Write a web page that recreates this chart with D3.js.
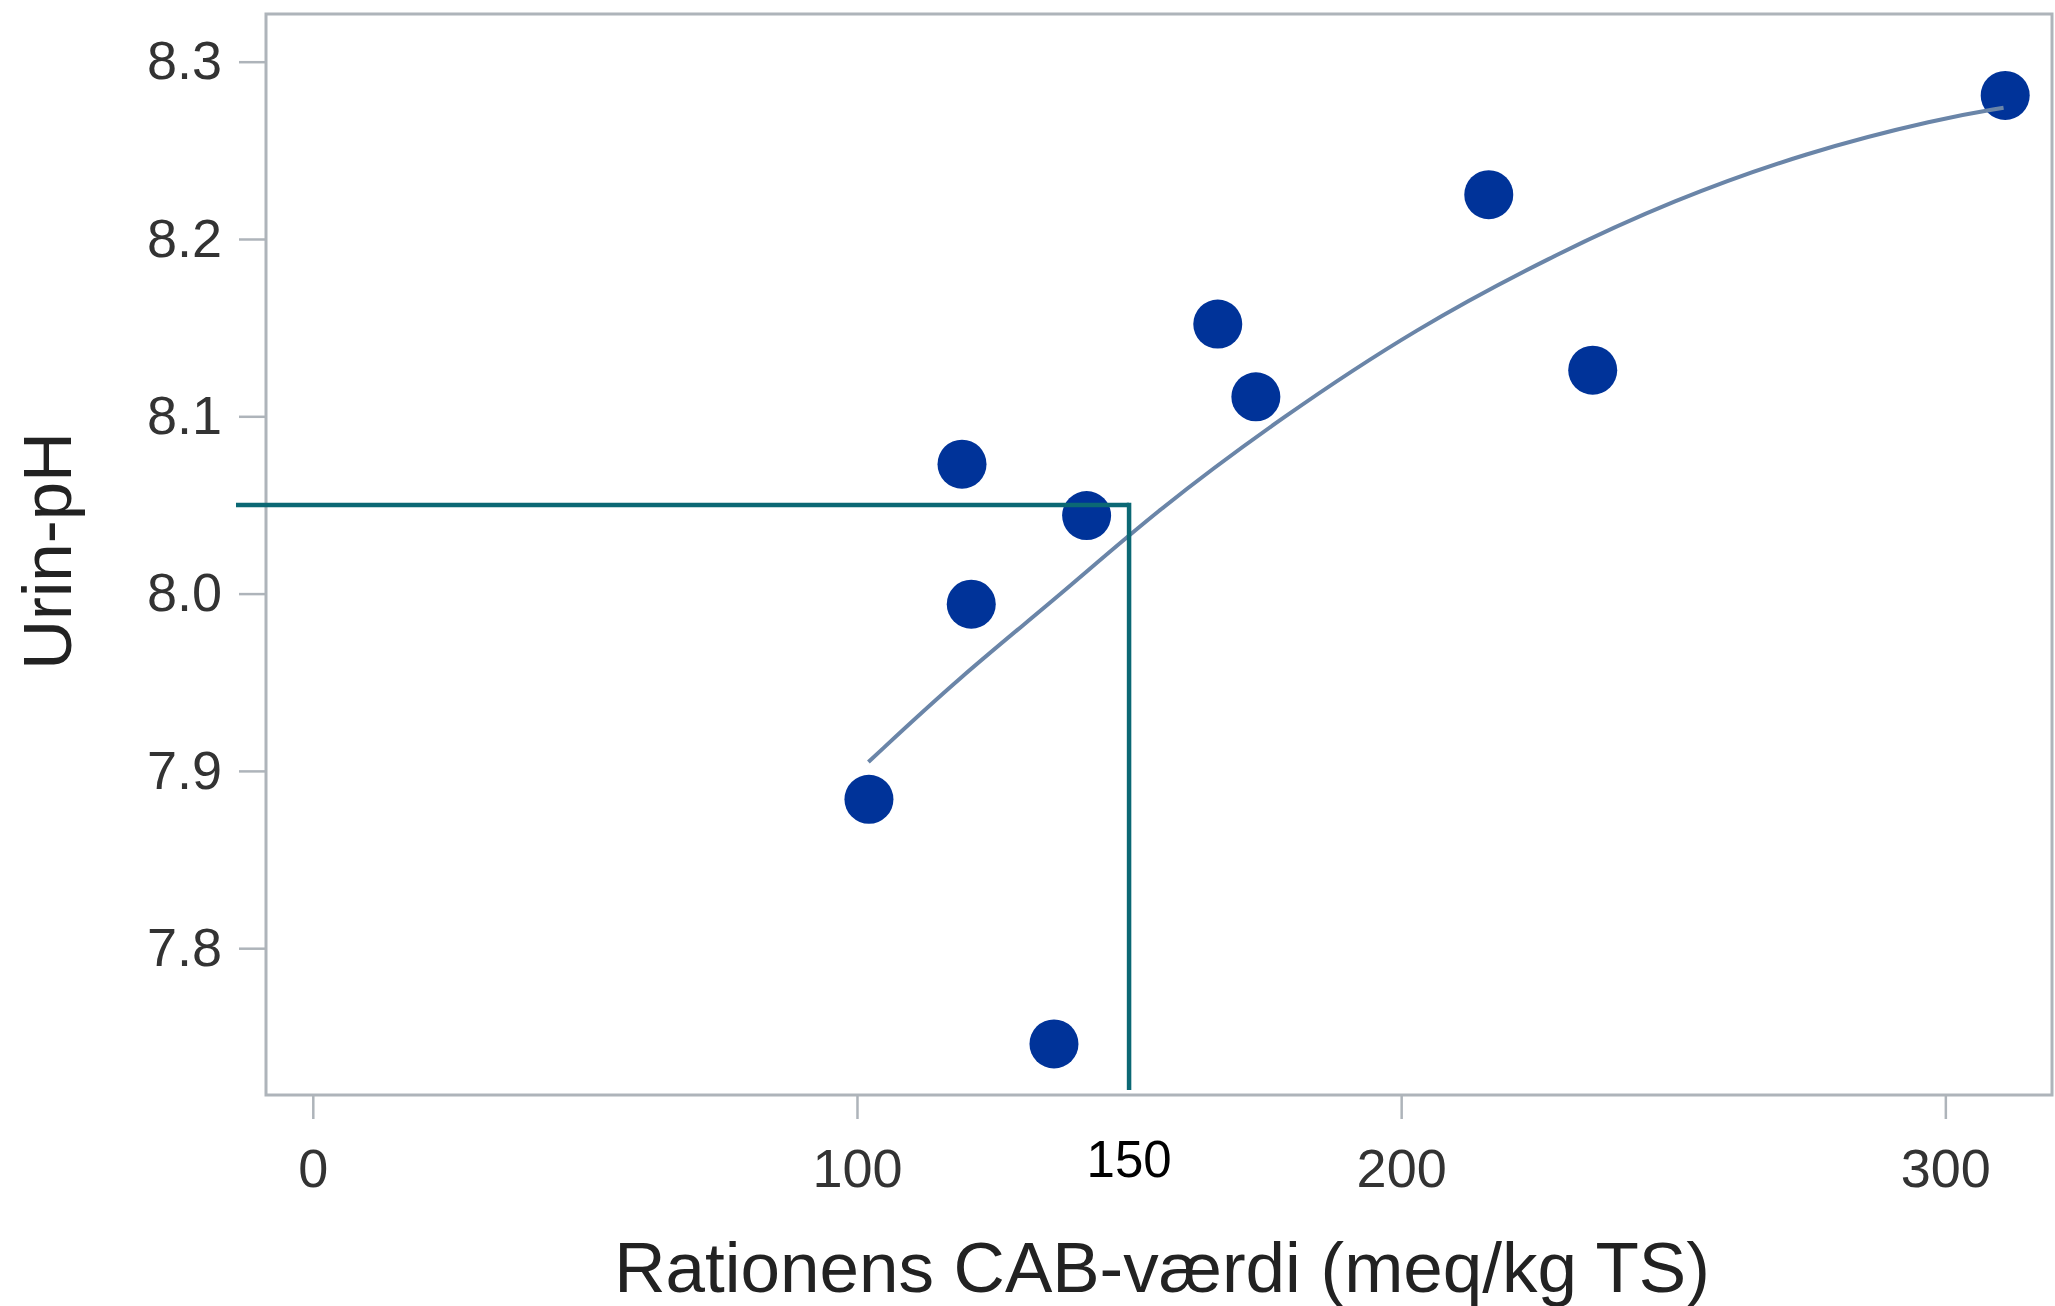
<!DOCTYPE html>
<html>
<head>
<meta charset="utf-8">
<script src="https://cdn.jsdelivr.net/npm/d3@7"></script>
<style>
  html, body { margin: 0; padding: 0; background: #ffffff; }
  svg { display: block; }
</style>
</head>
<body>
<script>
// Ration CAB value (meq/kg DM) and urine pH per observation
const cabValues = [102.2, 119.3, 121.0, 136.2, 142.2, 166.3, 173.3, 216.1, 235.2, 311.0];
const urinePh   = [7.884, 8.073, 7.994, 7.746, 8.044, 8.152, 8.111, 8.225, 8.126, 8.281];

// Fitted trend curve, sampled along the CAB range
const fitCab = [102.1, 118.9, 137.3, 155.1, 178.3, 202.9, 227.4, 250.0, 274.5, 299.0, 310.7];
const fitPh  = [7.905, 7.953, 7.999, 8.047, 8.100, 8.150, 8.190, 8.222, 8.249, 8.268, 8.274];

// Axis ticks
const xTicks = [0, 100, 200, 300];
const yTicks = [7.8, 7.9, 8.0, 8.1, 8.2, 8.3];

// Reference reading: CAB 150 gives urine pH about 8.05
const refCab = 150;
const refPh = 8.05;

const xTitle = "Rationens CAB-værdi (meq/kg TS)";
const yTitle = "Urin-pH";

const W = 2055, H = 1306;
const frame = { left: 266, right: 2052, top: 14, bottom: 1095 };

const svg = d3.select("body").append("svg")
  .attr("width", W).attr("height", H);

const x = d3.scaleLinear().domain([-8.6, 319.6]).range([frame.left, frame.right]);
const y = d3.scaleLinear().domain([7.7172, 8.3269]).range([frame.bottom, frame.top]);

const font = "'Liberation Sans', Arial, Helvetica, sans-serif";
const axisGray = "#aeb4ba";
const labelColor = "#333333";

// Axes (ticks and labels only; the frame is drawn as a box)
const yAxis = svg.append("g")
  .attr("transform", `translate(${frame.left},0)`)
  .call(d3.axisLeft(y).tickValues(yTicks).tickFormat(d3.format(".1f"))
    .tickSize(27).tickSizeOuter(0).tickPadding(17));
const xAxis = svg.append("g")
  .attr("transform", `translate(0,${frame.bottom})`)
  .call(d3.axisBottom(x).tickValues(xTicks).tickFormat(d3.format("d"))
    .tickSize(24).tickSizeOuter(0).tickPadding(30));

[yAxis, xAxis].forEach(g => {
  g.select(".domain").remove();
  g.selectAll(".tick line").attr("stroke", axisGray).attr("stroke-width", 2.5);
  g.selectAll(".tick text")
    .attr("fill", labelColor)
    .style("font-family", font)
    .style("font-size", "54px");
});
xAxis.selectAll(".tick text").attr("dy", "0.71em");

// Plot frame
svg.append("rect")
  .attr("x", frame.left).attr("y", frame.top)
  .attr("width", frame.right - frame.left)
  .attr("height", frame.bottom - frame.top)
  .attr("fill", "none")
  .attr("stroke", axisGray)
  .attr("stroke-width", 3);

// Observations
svg.append("g").selectAll("circle")
  .data(d3.range(cabValues.length))
  .join("circle")
  .attr("cx", i => x(cabValues[i]))
  .attr("cy", i => y(urinePh[i]))
  .attr("r", 24.5)
  .attr("fill", "#003399");

// Trend curve
const line = d3.line()
  .x(i => x(fitCab[i]))
  .y(i => y(fitPh[i]))
  .curve(d3.curveBasis);
svg.append("path")
  .datum(d3.range(fitCab.length))
  .attr("d", line)
  .attr("fill", "none")
  .attr("stroke", "#6a85a8")
  .attr("stroke-width", 4);

// Reference reading lines
const teal = "#0b6874";
svg.append("line")
  .attr("x1", frame.left - 30).attr("x2", x(refCab))
  .attr("y1", y(refPh)).attr("y2", y(refPh))
  .attr("stroke", teal).attr("stroke-width", 4.5);
svg.append("line")
  .attr("x1", x(refCab)).attr("x2", x(refCab))
  .attr("y1", y(refPh) - 2.25).attr("y2", frame.bottom - 5)
  .attr("stroke", teal).attr("stroke-width", 4.5);
svg.append("text")
  .attr("x", x(refCab)).attr("y", 1177)
  .attr("text-anchor", "middle")
  .attr("fill", "#000000")
  .style("font-family", font)
  .style("font-size", "51px")
  .text(String(refCab));

// Axis titles
svg.append("text")
  .attr("x", (frame.left + frame.right) / 2 + 3)
  .attr("y", 1292)
  .attr("text-anchor", "middle")
  .attr("fill", "#222222")
  .style("font-family", font)
  .style("font-size", "71px")
  .text(xTitle);

svg.append("text")
  .attr("transform", `translate(71,551) rotate(-90)`)
  .attr("text-anchor", "middle")
  .attr("fill", "#222222")
  .style("font-family", font)
  .style("font-size", "69px")
  .text(yTitle);
</script>
</body>
</html>
